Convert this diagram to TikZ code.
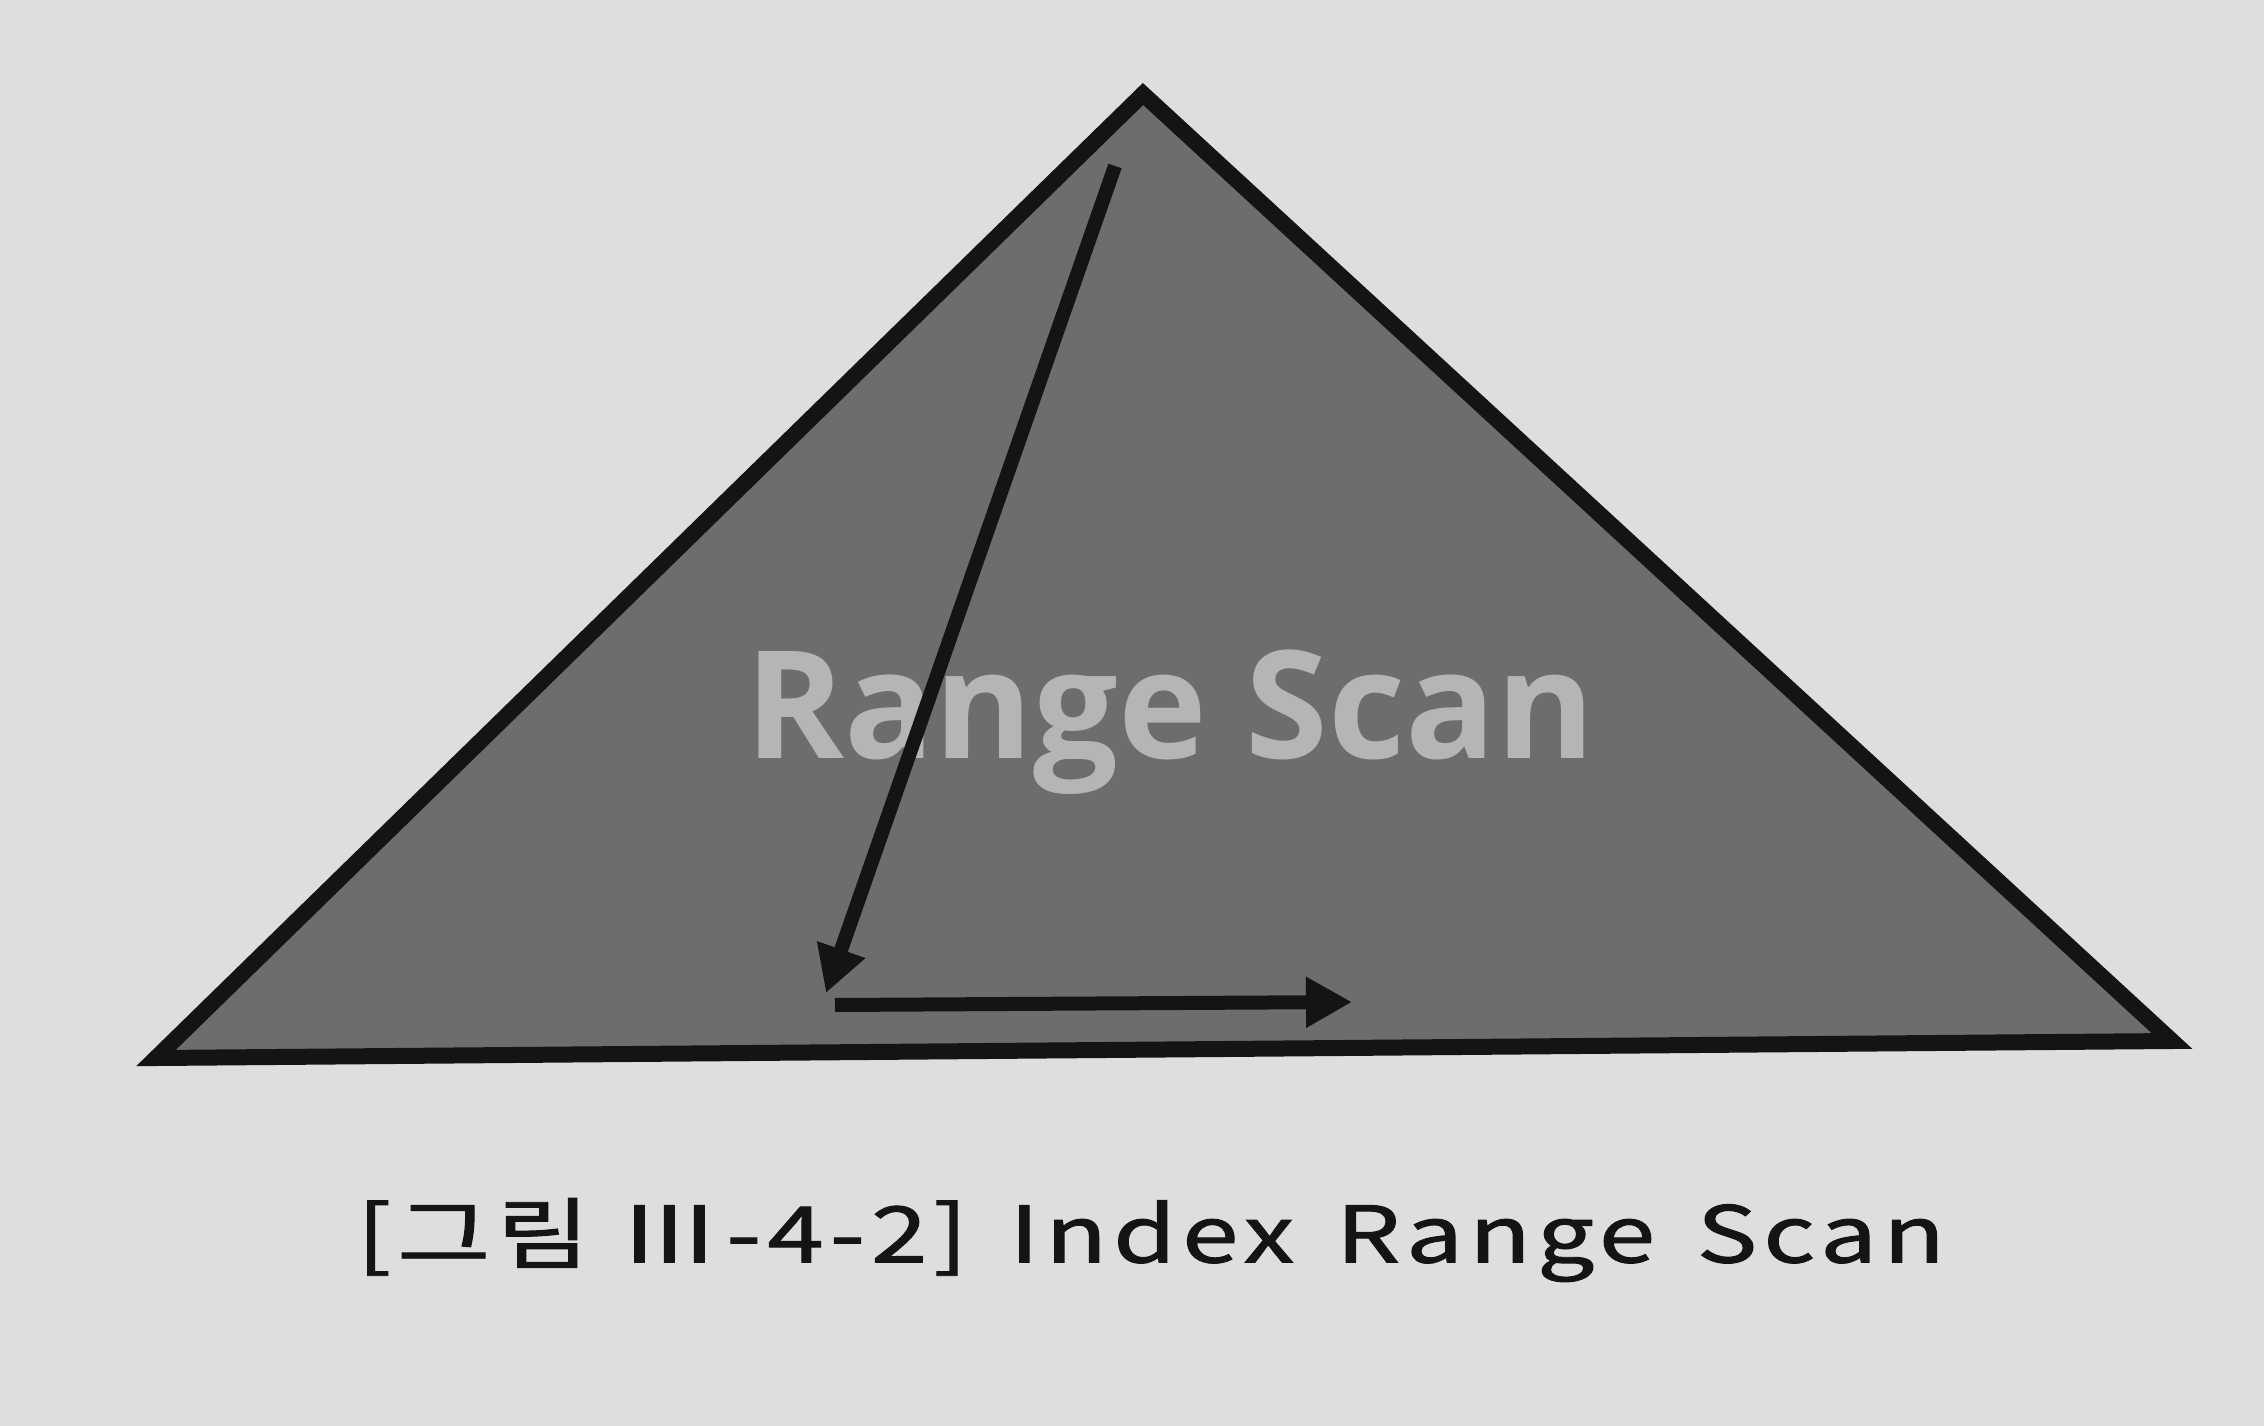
\documentclass[tikz,border=0pt]{standalone}
\usepackage{fontspec}
\setmainfont{Open Sans}
\newfontfamily\cjk[LetterSpace=6,FakeBold=1.2]{Noto Sans CJK KR}
\usetikzlibrary{arrows.meta}
\definecolor{paper}{RGB}{221,223,221}
\definecolor{pyrfill}{RGB}{108,109,108}
\definecolor{ghost}{RGB}{180,181,180}
\definecolor{ink}{RGB}{20,20,20}
\tikzset{
  pyramid/.style={draw=ink, fill=pyrfill, line width=16pt, line join=miter},
  scanarrow/.style={draw=ink, line width=14pt, -{Triangle[length=46pt,width=48pt]}},
  bigtitle/.style={text=ghost, font=\fontsize{150}{150}\selectfont\bfseries, inner sep=0pt},
  caption/.style={text=ink, font=\cjk\fontsize{78}{78}\selectfont, inner sep=0pt}
}
\begin{document}
\begin{tikzpicture}[x=1pt,y=-1pt]
  \fill[paper] (0,0) rectangle (2264,1426);
  \useasboundingbox (0,0) rectangle (2264,1426);
  \coordinate (apex) at (1143,94);
  \coordinate (bl) at (156,1058);
  \coordinate (br) at (2172,1041);
  \path[pyramid] (apex) -- (br) -- (bl) -- cycle;
  \node[bigtitle] (title) at (1170,722) {Range Scan};
  \coordinate (s1) at (1115,166);
  \coordinate (e1) at (826,993);
  \coordinate (s2) at (835,1005);
  \coordinate (e2) at (1352,1002);
  \draw[scanarrow] (s1) -- (e1);
  \draw[scanarrow] (s2) -- (e2);
  \node[caption] (cap) at (1151,1240) {\scalebox{1.30}[1]{[그림 Ⅲ-4-2]\hspace{10pt} Index\hspace{10pt} Range\hspace{10pt} Scan}};
\end{tikzpicture}
\end{document}
